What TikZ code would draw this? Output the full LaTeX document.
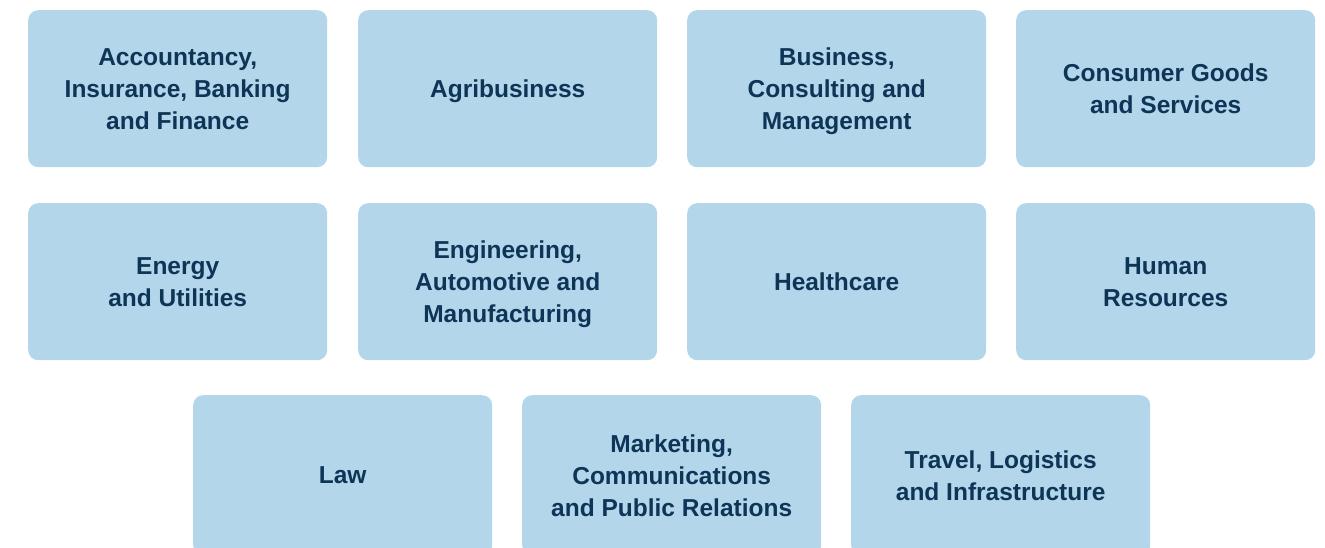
\documentclass[tikz,border=0pt]{standalone}
\usepackage{fontspec}
\setmainfont{Liberation Sans}
\definecolor{boxfill}{HTML}{B3D6EA}
\definecolor{boxtext}{HTML}{0E3557}
\begin{document}
\begin{tikzpicture}[x=1pt,y=-1pt,
  card/.style={fill=boxfill,draw=none,rounded corners=10pt,minimum width=299pt,minimum height=157pt,anchor=north west,
    text=boxtext,align=center,font=\fontsize{24.5}{32}\selectfont\bfseries,inner sep=0pt,text depth=0pt}]
\useasboundingbox (0,0) rectangle (1325,548);
\begin{scope}
\clip (0,0) rectangle (1325,548);
\node[card] (acc) at (28,10) {Accountancy,\\Insurance, Banking\\and Finance};
\node[card] (agr) at (358,10) {Agribusiness};
\node[card] (bus) at (687,10) {Business,\\Consulting and\\Management};
\node[card] (con) at (1016,10) {Consumer Goods\\and Services};
\node[card] (ene) at (28,203) {Energy\\and Utilities};
\node[card] (eng) at (358,203) {Engineering,\\Automotive and\\Manufacturing};
\node[card] (hea) at (687,203) {Healthcare};
\node[card] (hum) at (1016,203) {Human\\Resources};
\node[card,minimum height=160pt] (law) at (193,395) {Law};
\node[card,minimum height=160pt] (mar) at (522,395) {Marketing,\\Communications\\and Public Relations};
\node[card,minimum height=160pt] (tra) at (851,395) {Travel, Logistics\\and Infrastructure};
\end{scope}
\end{tikzpicture}
\end{document}
